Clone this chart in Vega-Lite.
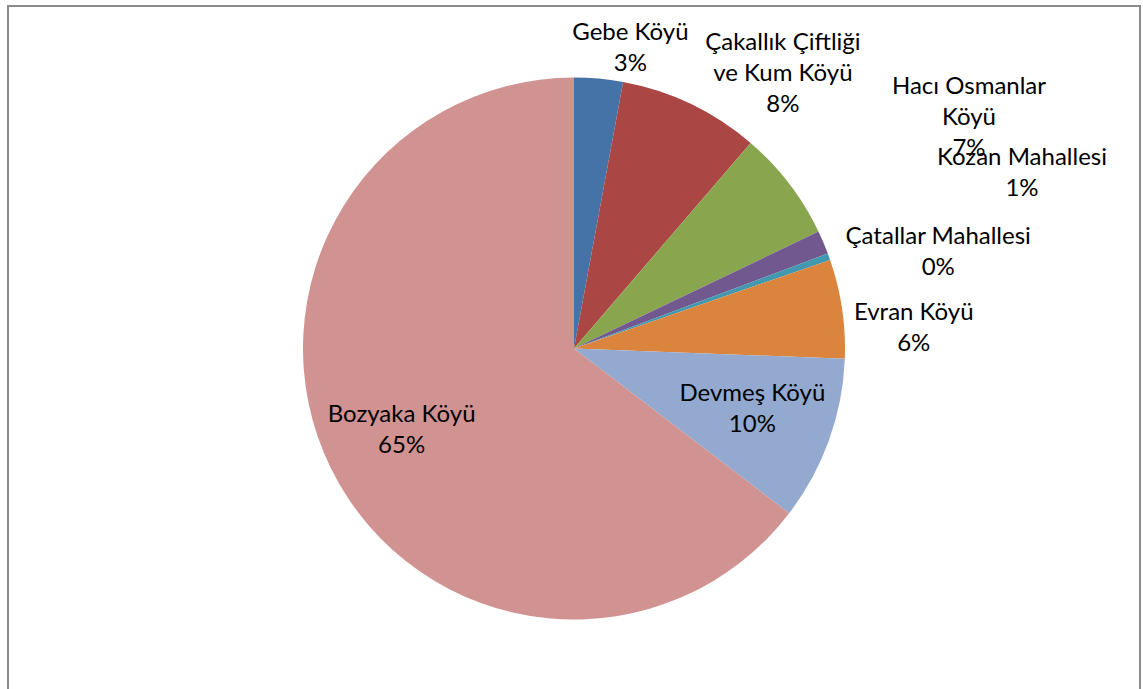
{
  "$schema": "https://vega.github.io/schema/vega-lite/v6.json",
  "autosize": "none",
  "width": 1132,
  "height": 685,
  "padding": {"left": 8, "top": 6, "right": 3, "bottom": 0},
  "background": "white",
  "view": {"stroke": "#8c8c8c", "strokeWidth": 2},
  "config": {"view": {"stroke": "#8c8c8c", "strokeWidth": 2}},
  "data": {"values": [
    {"i": 0, "cat": "Gebe Köyü", "value": 2.9, "label": "Gebe Köyü\n3%"},
    {"i": 1, "cat": "Çakallık Çiftliği ve Kum Köyü", "value": 8.4, "label": "Çakallık Çiftliği\nve Kum Köyü\n8%"},
    {"i": 2, "cat": "Hacı Osmanlar Köyü", "value": 6.6, "label": "Hacı Osmanlar\nKöyü\n7%"},
    {"i": 3, "cat": "Kozan Mahallesi", "value": 1.4, "label": "Kozan Mahallesi\n1%"},
    {"i": 4, "cat": "Çatallar Mahallesi", "value": 0.4, "label": "Çatallar Mahallesi\n0%"},
    {"i": 5, "cat": "Evran Köyü", "value": 5.9, "label": "Evran Köyü\n6%"},
    {"i": 6, "cat": "Devmeş Köyü", "value": 9.8, "label": "Devmeş Köyü\n10%"},
    {"i": 7, "cat": "Bozyaka Köyü", "value": 64.6, "label": "Bozyaka Köyü\n65%"}
  ]},
  "encoding": {
    "theta": {"field": "value", "type": "quantitative", "stack": true},
    "order": {"field": "i", "type": "quantitative"}
  },
  "layer": [
    {
      "mark": {"type": "arc", "outerRadius": 271, "stroke": null},
      "encoding": {
        "color": {
          "field": "cat", "type": "nominal", "legend": null,
          "scale": {
            "domain": ["Gebe Köyü", "Çakallık Çiftliği ve Kum Köyü", "Hacı Osmanlar Köyü", "Kozan Mahallesi", "Çatallar Mahallesi", "Evran Köyü", "Devmeş Köyü", "Bozyaka Köyü"],
            "range": ["#4572A7", "#AA4643", "#89A54E", "#71588F", "#4198AF", "#DB843D", "#93A9CF", "#D19392"]
          }
        }
      }
    },
    {
      "mark": {"type": "text", "radius": 301, "dx": 29, "dy": -16, "font": "Lato", "fontSize": 24, "lineBreak": "\n", "lineHeight": 31, "align": "center", "baseline": "middle", "color": "black"},
      "encoding": {"text": {"condition": {"test": "datum.i == 0", "field": "label", "type": "nominal"}, "value": ""}}
    },
    {
      "mark": {"type": "text", "radius": 301, "dx": 79, "dy": -34, "font": "Lato", "fontSize": 24, "lineBreak": "\n", "lineHeight": 31, "align": "center", "baseline": "middle", "color": "black"},
      "encoding": {"text": {"condition": {"test": "datum.i == 1", "field": "label", "type": "nominal"}, "value": ""}}
    },
    {
      "mark": {"type": "text", "radius": 301, "dx": 156, "dy": -79, "font": "Lato", "fontSize": 24, "lineBreak": "\n", "lineHeight": 31, "align": "center", "baseline": "middle", "color": "black"},
      "encoding": {"text": {"condition": {"test": "datum.i == 2", "field": "label", "type": "nominal"}, "value": ""}}
    },
    {
      "mark": {"type": "text", "radius": 301, "dx": 171, "dy": -73, "font": "Lato", "fontSize": 24, "lineBreak": "\n", "lineHeight": 31, "align": "center", "baseline": "middle", "color": "black"},
      "encoding": {"text": {"condition": {"test": "datum.i == 3", "field": "label", "type": "nominal"}, "value": ""}}
    },
    {
      "mark": {"type": "text", "radius": 301, "dx": 81, "dy": -10, "font": "Lato", "fontSize": 24, "lineBreak": "\n", "lineHeight": 31, "align": "center", "baseline": "middle", "color": "black"},
      "encoding": {"text": {"condition": {"test": "datum.i == 4", "field": "label", "type": "nominal"}, "value": ""}}
    },
    {
      "mark": {"type": "text", "radius": 301, "dx": 42, "dy": 9, "font": "Lato", "fontSize": 24, "lineBreak": "\n", "lineHeight": 31, "align": "center", "baseline": "middle", "color": "black"},
      "encoding": {"text": {"condition": {"test": "datum.i == 5", "field": "label", "type": "nominal"}, "value": ""}}
    },
    {
      "mark": {"type": "text", "radius": 180, "dx": 9, "dy": -15, "font": "Lato", "fontSize": 24, "lineBreak": "\n", "lineHeight": 31, "align": "center", "baseline": "middle", "color": "black"},
      "encoding": {"text": {"condition": {"test": "datum.i == 6", "field": "label", "type": "nominal"}, "value": ""}}
    },
    {
      "mark": {"type": "text", "radius": 180, "dx": -11, "dy": -13, "font": "Lato", "fontSize": 24, "lineBreak": "\n", "lineHeight": 31, "align": "center", "baseline": "middle", "color": "black"},
      "encoding": {"text": {"condition": {"test": "datum.i == 7", "field": "label", "type": "nominal"}, "value": ""}}
    }
  ]
}
